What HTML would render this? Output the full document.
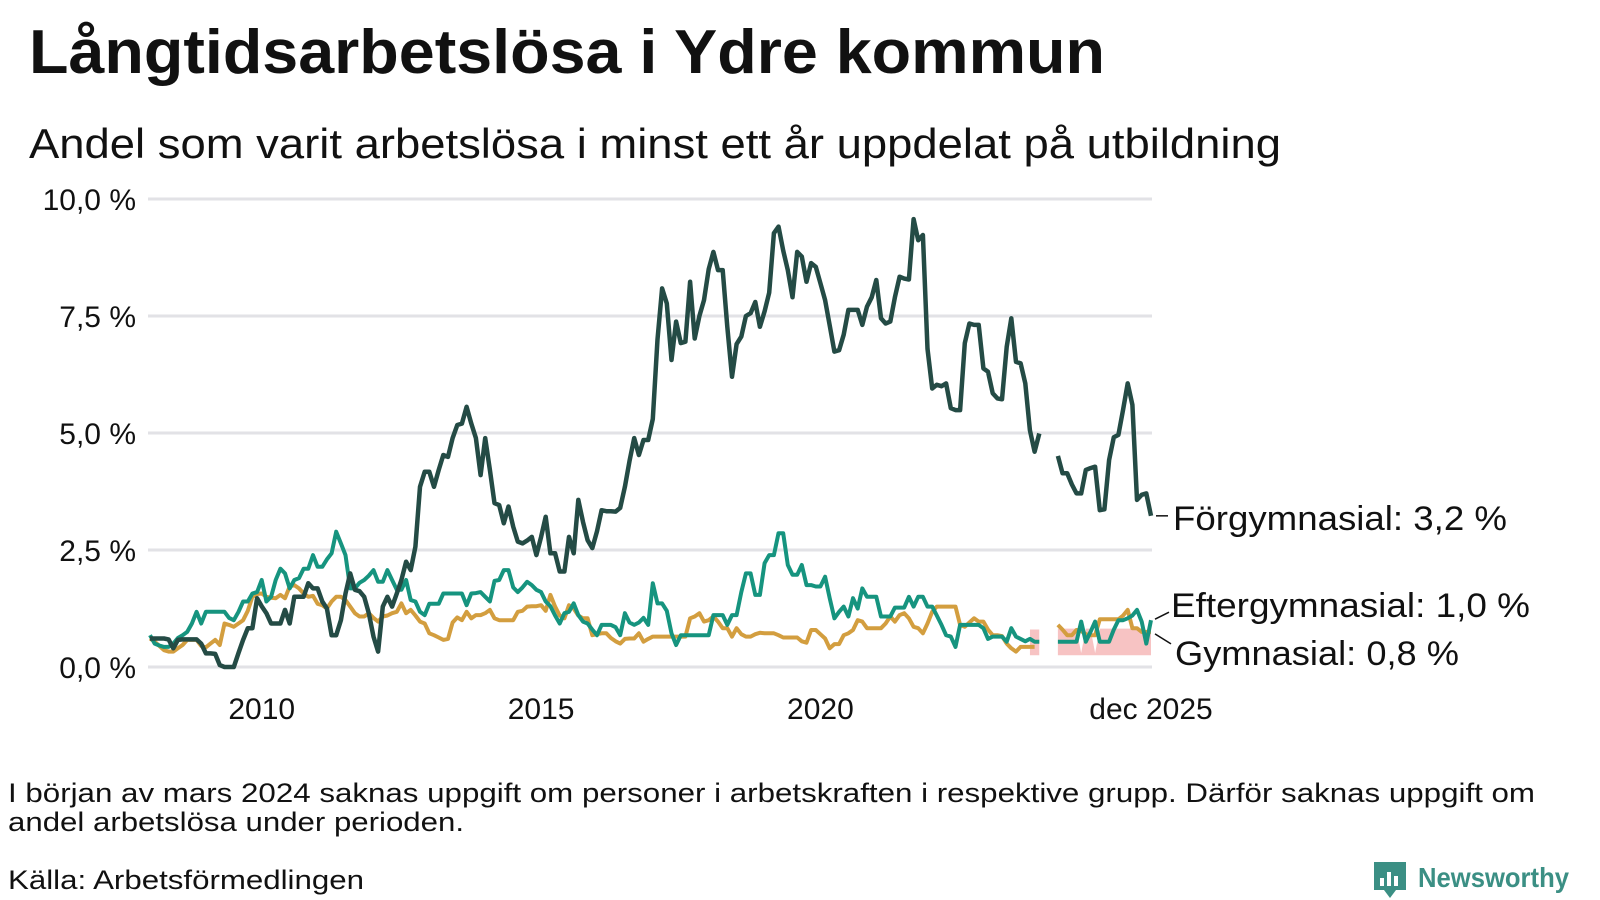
<!DOCTYPE html>
<html><head><meta charset="utf-8"><style>
html,body{margin:0;padding:0;background:#fff;}
svg{display:block;font-family:"Liberation Sans",sans-serif;}
</style></head><body>
<svg id="chart" width="1600" height="900" viewBox="0 0 1600 900">
<text x="29" y="73" font-size="62" font-weight="bold" fill="#111" textLength="1076" lengthAdjust="spacingAndGlyphs">Långtidsarbetslösa i Ydre kommun</text>
<text x="29" y="158" font-size="42" fill="#111" textLength="1252" lengthAdjust="spacingAndGlyphs">Andel som varit arbetslösa i minst ett år uppdelat på utbildning</text>
<g id="grid"></g>
<g id="band"></g>
<g id="lines"></g>
<g id="labels"></g>
<text x="8" y="802" font-size="27" fill="#111" textLength="1527" lengthAdjust="spacingAndGlyphs">I början av mars 2024 saknas uppgift om personer i arbetskraften i respektive grupp. Därför saknas uppgift om</text>
<text x="8" y="831" font-size="27" fill="#111" textLength="456" lengthAdjust="spacingAndGlyphs">andel arbetslösa under perioden.</text>
<text x="8" y="889" font-size="27" fill="#111" textLength="356" lengthAdjust="spacingAndGlyphs">Källa: Arbetsförmedlingen</text>
<g>
<path d="M1374 862 h32 v28 h-10 l-6 8 l-6 -8 h-10 z" fill="#3b8f84"/>
<rect x="1380" y="878" width="4" height="8" fill="#fff"/>
<rect x="1387" y="872" width="4" height="14" fill="#fff"/>
<rect x="1394" y="876" width="4" height="10" fill="#fff"/>
<text x="1418" y="887" font-size="28" font-weight="bold" fill="#3b8f84" textLength="151" lengthAdjust="spacingAndGlyphs">Newsworthy</text>
</g>
</svg>
<script>
const N = null;
const yTicks = [0, 2.5, 5, 7.5, 10];
const yTickLabels = ["0,0 %", "2,5 %", "5,0 %", "7,5 %", "10,0 %"];
const xTickMonths = [24, 84, 144, 215];
const xTickLabels = ["2010", "2015", "2020", "dec 2025"];
const forgymnasial = [0.61,0.61,0.61,0.61,0.59,0.4,0.58,0.59,0.59,0.59,0.59,0.5,0.29,0.29,0.28,0.04,0,0,0,0.3,0.58,0.83,0.83,1.47,1.3,1.15,0.93,0.93,0.93,1.22,0.93,1.5,1.5,1.5,1.79,1.68,1.68,1.4,1.25,0.68,0.68,1.0,1.57,2.0,1.65,1.62,1.5,1.15,0.65,0.33,1.29,1.5,1.29,1.57,1.86,2.25,2.07,2.57,3.85,4.17,4.17,3.85,4.21,4.53,4.49,4.89,5.17,5.2,5.56,5.2,4.89,4.1,4.89,4.21,3.5,3.46,3.07,3.43,3.0,2.68,2.64,2.7,2.78,2.39,2.78,3.21,2.43,2.43,2.04,2.04,2.78,2.43,3.57,
3.1,2.71,2.54,2.9,3.35,3.33,3.33,3.32,3.4,3.85,4.4,4.89,4.53,4.85,4.85,5.3,7.0,8.09,7.77,6.56,7.38,6.92,6.95,8.23,7.02,7.5,7.84,8.5,8.87,8.48,8.48,7.27,6.2,6.9,7.06,7.5,7.56,7.8,7.27,7.6,8.0,9.27,9.41,8.9,8.48,7.9,8.87,8.77,8.23,8.63,8.55,8.2,7.84,7.3,6.74,6.77,7.1,7.63,7.63,7.63,7.31,7.7,7.9,8.27,7.45,7.34,7.38,7.9,8.34,8.3,8.28,9.57,9.12,9.23,6.8,5.95,6.03,6.0,6.06,5.53,5.49,5.49,6.92,7.34,7.31,7.31,6.38,6.31,5.85,5.74,5.72,6.84,7.45,6.52,6.49,6.06,5.06,4.6,4.99,N,N,N,4.51,4.14,4.14,3.9,3.71,3.71,4.21,4.25,4.28,3.35,3.37,4.42,4.91,4.96,5.5,6.06,5.6,3.57,3.68,3.71,3.23];
const eftergymnasial = [0.68,0.5,0.46,0.43,0.43,0.5,0.62,0.68,0.75,0.93,1.18,0.93,1.18,1.18,1.18,1.18,1.18,1.05,1.0,1.18,1.4,1.4,1.57,1.6,1.86,1.4,1.5,1.86,2.1,2.0,1.68,1.86,1.9,2.1,2.1,2.39,2.14,2.14,2.3,2.43,2.89,2.64,2.39,1.68,1.68,1.8,1.86,1.95,2.07,1.82,1.82,2.07,1.86,1.65,1.65,1.86,1.43,1.4,1.18,1.11,1.35,1.35,1.35,1.57,1.57,1.57,1.57,1.57,1.32,1.57,1.58,1.6,1.5,1.4,1.84,1.86,2.07,2.07,1.7,1.6,1.7,1.82,1.75,1.65,1.6,1.4,1.3,1.1,0.93,1.15,1.18,1.36,1.11,
0.97,0.93,0.8,0.68,0.9,0.9,0.9,0.85,0.68,1.15,0.95,0.9,0.95,1.05,0.9,1.79,1.36,1.36,1.2,0.72,0.47,0.68,0.68,0.68,0.68,0.68,0.68,0.68,1.11,1.11,1.11,0.9,1.11,1.11,1.6,2.0,2.0,1.54,1.54,2.22,2.39,2.39,2.86,2.86,2.18,1.97,1.97,2.18,1.75,1.75,1.72,1.72,1.93,1.47,1.04,1.18,1.29,1.08,1.47,1.25,1.68,1.5,1.5,1.5,1.08,1.08,1.08,1.27,1.27,1.27,1.5,1.29,1.5,1.5,1.29,1.29,1.1,0.9,0.68,0.65,0.43,0.9,0.9,0.9,0.9,0.9,0.83,0.6,0.65,0.65,0.65,0.54,0.83,0.65,0.6,0.55,0.6,0.54,0.54,N,N,N,0.54,0.54,0.54,0.54,0.54,0.97,0.54,0.75,0.97,0.54,0.54,0.54,0.8,1.0,1.0,1.04,1.1,1.22,0.97,0.5,1.0];
const gymnasial = [0.61,0.54,0.45,0.36,0.33,0.33,0.4,0.47,0.58,0.58,0.58,0.45,0.42,0.5,0.58,0.47,0.93,0.9,0.86,0.93,1.0,1.2,1.5,1.56,1.57,1.5,1.48,1.47,1.54,1.47,1.72,1.75,1.68,1.57,1.5,1.52,1.35,1.32,1.25,1.4,1.5,1.5,1.43,1.29,1.15,1.08,1.08,1.15,1.05,0.97,1.08,1.1,1.15,1.18,1.36,1.15,1.22,1.1,0.97,0.93,0.72,0.68,0.63,0.58,0.6,0.95,1.06,1.0,1.18,1.04,1.11,1.11,1.15,1.22,1.04,1.0,1.0,1.0,1.0,1.18,1.2,1.29,1.3,1.3,1.32,1.2,1.54,1.29,1.1,1.04,1.32,1.25,1.1,
1.04,1.04,0.68,0.7,0.72,0.72,0.62,0.55,0.5,0.6,0.61,0.61,0.72,0.54,0.6,0.65,0.65,0.65,0.65,0.65,0.65,0.65,0.65,1.04,1.08,1.15,0.97,1.0,1.08,0.97,0.83,0.83,0.65,0.83,0.7,0.65,0.65,0.7,0.73,0.72,0.72,0.72,0.68,0.63,0.63,0.63,0.63,0.55,0.52,0.79,0.79,0.7,0.61,0.4,0.49,0.49,0.68,0.72,0.79,1.0,0.97,0.83,0.83,0.83,0.83,0.93,1.08,0.97,1.11,1.15,1.04,0.86,0.83,0.72,0.93,1.18,1.29,1.29,1.29,1.29,1.29,0.9,0.86,0.95,1.04,0.97,0.97,0.8,0.68,0.68,0.66,0.5,0.4,0.33,0.43,0.43,0.43,0.43,N,N,N,N,0.9,0.8,0.68,0.68,0.79,0.77,0.7,0.68,0.68,1.02,1.02,1.02,1.02,1.02,1.1,1.22,0.83,0.83,0.75,0.75,0.75];
const bandStartMonth = 189;
const bandLow = [0.25,0.25,0.25,N,N,N,0.25,0.25,0.25,0.25,0.25,0.25,0.25,0.25,0.25,0.25,0.25,0.25,0.25,0.25,0.25,0.25,0.25,0.25,0.25,0.25,0.25];
const bandHigh = [0.8,0.8,0.8,N,N,N,0.82,0.82,0.82,0.82,0.82,0.3,0.82,0.82,0.3,0.82,0.82,0.82,0.82,0.82,0.82,0.82,0.82,0.82,0.82,0.5,0.82];
const seriesNames = ["Förgymnasial", "Eftergymnasial", "Gymnasial"];

const NS = "http://www.w3.org/2000/svg";
const X0 = 150, X1 = 1151, Y0 = 667, PX_PER_PCT = 46.8;
const nMonths = 216;
function xScale(i){ return X0 + i * (X1 - X0) / (nMonths - 1); }
function yScale(v){ return Y0 - v * PX_PER_PCT; }
function mk(tag, attrs, parent){ const e = document.createElementNS(NS, tag); for (const k in attrs) e.setAttribute(k, attrs[k]); parent.appendChild(e); return e; }

const grid = document.getElementById("grid");
yTicks.forEach((t, k) => {
  const ln = mk("line", {x1: 148, x2: 1152, y1: yScale(t), y2: yScale(t), stroke: "#e2e2e6", "stroke-width": 3}, grid);
  
  
  const tx = mk("text", {x: 136, y: yScale(t) + 11, "font-size": 30, fill: "#111", "text-anchor": "end"}, grid);
  tx.textContent = yTickLabels[k];
  
  
});
xTickMonths.forEach((m, k) => {
  const tx = mk("text", {x: xScale(m), y: 719, "font-size": 30, fill: "#111", "text-anchor": "middle"}, grid);
  tx.textContent = xTickLabels[k];
  
  
});

// band
const band = document.getElementById("band");
let seg = [];
function flushBand(){
  if (seg.length > 1) {
    const top = seg.map(p => xScale(p[0]) + "," + yScale(p[2]));
    const bot = seg.slice().reverse().map(p => xScale(p[0]) + "," + yScale(p[1]));
    const pg = mk("polygon", {points: top.concat(bot).join(" "), fill: "#f7c3c3"}, band);
    
    
  }
  seg = [];
}
bandLow.forEach((lo, k) => {
  if (lo === null || bandHigh[k] === null) { flushBand(); return; }
  seg.push([bandStartMonth + k, lo, bandHigh[k]]);
});
flushBand();

function pathFor(arr){
  let d = "", pen = false;
  arr.forEach((v, i) => {
    if (v === null) { pen = false; return; }
    d += (pen ? "L" : "M") + xScale(i).toFixed(1) + "," + yScale(v).toFixed(1);
    pen = true;
  });
  return d;
}
const lines = document.getElementById("lines");
const g1 = mk("path", {d: pathFor(gymnasial), fill: "none", stroke: "#d39e3f", "stroke-width": 4, "stroke-linejoin": "round"}, lines);


const e1 = mk("path", {d: pathFor(eftergymnasial), fill: "none", stroke: "#16947f", "stroke-width": 4, "stroke-linejoin": "round"}, lines);


const f1 = mk("path", {d: pathFor(forgymnasial), fill: "none", stroke: "#244b45", "stroke-width": 4.5, "stroke-linejoin": "round"}, lines);



// end labels
const labels = document.getElementById("labels");
function fmt(v){ return v.toFixed(1).replace(".", ",") + " %"; }
const lastF = forgymnasial[215], lastE = eftergymnasial[215], lastG = gymnasial[215];
const lf = mk("line", {x1: xScale(215) + 5, x2: xScale(215) + 17, y1: yScale(lastF), y2: yScale(lastF), stroke: "#111", "stroke-width": 1.5}, labels);


const le = mk("line", {x1: xScale(215) + 4, x2: xScale(215) + 18, y1: yScale(lastE) - 1, y2: yScale(lastE) - 8, stroke: "#111", "stroke-width": 1.5}, labels);


const lg = mk("line", {x1: xScale(215) + 4, x2: xScale(215) + 20, y1: yScale(lastG) + 2, y2: yScale(lastG) + 12, stroke: "#111", "stroke-width": 1.5}, labels);


const tf = mk("text", {x: 1173, y: yScale(lastF) + 14, "font-size": 34, fill: "#111", textLength: 334, lengthAdjust: "spacingAndGlyphs"}, labels);
tf.textContent = seriesNames[0] + ": " + fmt(lastF);


const te = mk("text", {x: 1171, y: 617, "font-size": 34, fill: "#111", textLength: 359, lengthAdjust: "spacingAndGlyphs"}, labels);
te.textContent = seriesNames[1] + ": " + fmt(lastE);


const tg = mk("text", {x: 1175, y: 665, "font-size": 34, fill: "#111", textLength: 284, lengthAdjust: "spacingAndGlyphs"}, labels);
tg.textContent = seriesNames[2] + ": " + fmt(lastG);


</script>
</body></html>
